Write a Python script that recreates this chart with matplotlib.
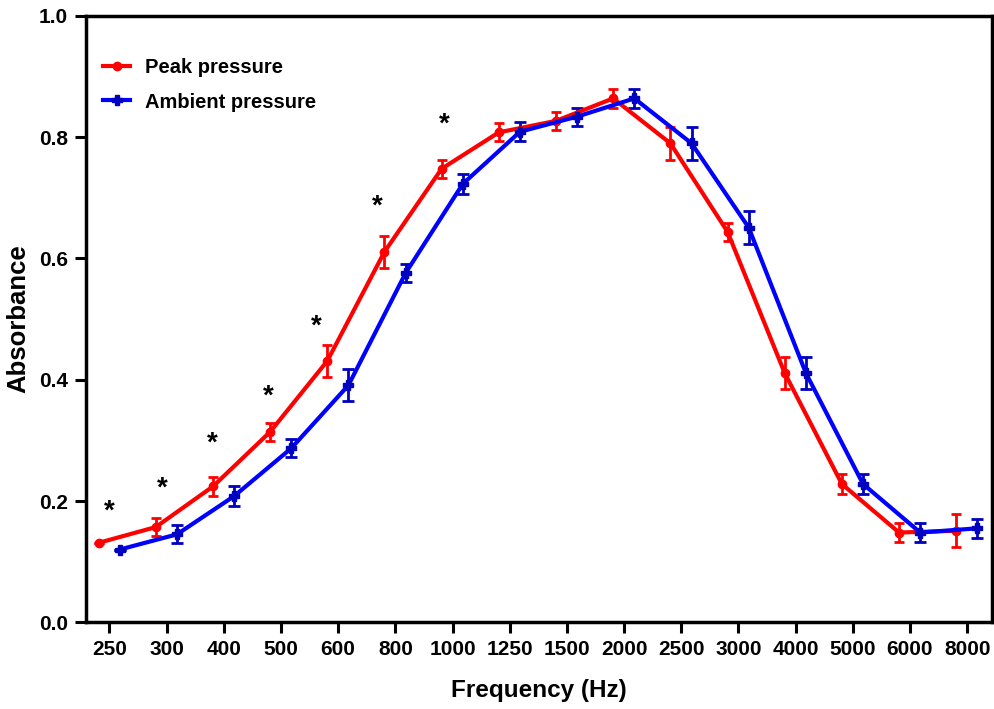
import numpy as np
import matplotlib
matplotlib.use("Agg")
import matplotlib.pyplot as plt
from matplotlib.lines import Line2D

plt.rcParams['font.family'] = ['Liberation Sans', 'DejaVu Sans']
plt.rcParams['font.weight'] = 'bold'

# ---- data
freq_labels = ["250", "300", "400", "500", "600", "800", "1000", "1250", "1500",
               "2000", "2500", "3000", "4000", "5000", "6000", "8000"]

peak_mean = [0.131, 0.157, 0.224, 0.314, 0.431, 0.611, 0.748, 0.808, 0.827,
             0.864, 0.790, 0.644, 0.411, 0.228, 0.148, 0.151]
peak_err = [0.0, 0.015, 0.016, 0.015, 0.026, 0.026, 0.015, 0.015, 0.015,
            0.016, 0.027, 0.015, 0.026, 0.016, 0.016, 0.027]

amb_mean = [0.120, 0.145, 0.208, 0.287, 0.391, 0.576, 0.723, 0.809, 0.834,
            0.864, 0.790, 0.651, 0.411, 0.228, 0.148, 0.155]
amb_err = [0.0, 0.015, 0.016, 0.015, 0.026, 0.015, 0.016, 0.016, 0.015,
           0.016, 0.027, 0.027, 0.026, 0.016, 0.015, 0.016]

# significance stars (category index, offset, height)
star_idx = [0, 1, 2, 3, 4, 5, 6]
star_off = [0.0, -0.08, -0.2, -0.22, -0.39, -0.32, -0.15]
star_y = [0.182, 0.220, 0.294, 0.372, 0.487, 0.685, 0.820]

x = np.arange(len(freq_labels))

red = '#FF0000'
blue = '#0000FF'
dblue = '#0000C0'

fig = plt.figure(figsize=(9.94, 7.09), dpi=100)
ax = fig.add_axes([0.0865, 0.1223, 0.9112, 0.8552])

ax.errorbar(x - 0.19, peak_mean, yerr=peak_err, color=red, lw=3,
            marker='o', ms=6, mfc=red, mec=red,
            ecolor=red, elinewidth=2, capsize=3.5, capthick=2, zorder=3)
ax.errorbar(x + 0.18, amb_mean, yerr=amb_err, color=blue, lw=3,
            marker='P', ms=7, mfc=dblue, mec=dblue,
            ecolor=dblue, elinewidth=2, capsize=4.5, capthick=2, zorder=3)

for i, o, yv in zip(star_idx, star_off, star_y):
    ax.text(i + o, yv, '*', ha='center', va='center', fontsize=20,
            fontweight='bold', color='black')

ax.set_xlim(-0.41, 15.43)
ax.set_ylim(0, 1.0)
ax.set_xticks(x)
ax.set_xticklabels(freq_labels)
ax.set_yticks([0, 0.2, 0.4, 0.6, 0.8, 1.0])
ax.set_yticklabels(["0.0", "0.2", "0.4", "0.6", "0.8", "1.0"])

for s in ax.spines.values():
    s.set_linewidth(2.5)
ax.tick_params(axis='both', direction='out', length=8, width=2.2,
               labelsize=15, pad=5)
for lab in ax.get_xticklabels() + ax.get_yticklabels():
    lab.set_fontweight('bold')

ax.set_xlabel('Frequency (Hz)', fontsize=17.5, fontweight='bold', labelpad=14)
ax.set_ylabel('Absorbance', fontsize=18.5, fontweight='bold', labelpad=6)

handles = [Line2D([], [], color=red, lw=3, marker='o', ms=6, mfc=red, mec=red),
           Line2D([], [], color=blue, lw=3, marker='P', ms=7, mfc=dblue, mec=dblue)]
leg = ax.legend(handles, ['Peak pressure', 'Ambient pressure'],
                loc='upper left', bbox_to_anchor=(0.019, 0.93), frameon=False,
                fontsize=14.5, borderpad=0, borderaxespad=0, handlelength=1.35,
                handletextpad=0.72, labelspacing=0.75)
for t in leg.get_texts():
    t.set_fontweight('bold')

fig.savefig('out.png', dpi=100)
